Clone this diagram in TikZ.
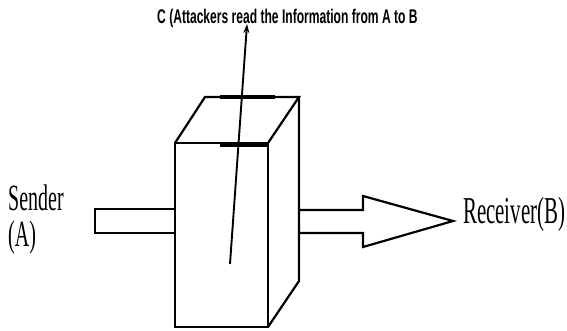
\documentclass[tikz,border=0pt]{standalone}
\usepackage{fontspec}
\setmainfont{Liberation Serif}
\newfontfamily\arialfont{Liberation Sans}
\usetikzlibrary{arrows.meta}
\begin{document}
\begin{tikzpicture}[x=1pt,y=-1pt,
  edge/.style={line width=2.2pt, line join=miter, draw=black},
  thick bar/.style={line width=4.5pt},
  lbl/.style={inner sep=0pt, anchor=west},
  ]
\useasboundingbox (0,0) rectangle (567,331);
% box corners
\coordinate (ftl) at (175,143);
\coordinate (ftr) at (268,143);
\coordinate (fbl) at (175,327);
\coordinate (fbr) at (268,327);
\coordinate (btl) at (205,97);
\coordinate (btr) at (299,97);
\coordinate (bbr) at (299,281);
% sender arrow (shaft only)
\draw[edge] (175,209) -- (95,209) -- (95,233) -- (175,233);
% receiver arrow
\draw[edge] (299,210) -- (363,210) -- (363,196) -- (453,221) -- (363,247) -- (363,233) -- (299,233);
% box
\draw[edge] (ftl) rectangle (fbr);
\draw[edge] (ftl) -- (btl) -- (btr) -- (ftr);
\draw[edge] (btr) -- (bbr) -- (fbr);
% thick bars
\draw[thick bar] (220,97) -- (275,97);
\draw[thick bar] (220,145) -- (268,145);
% attacker arrow
\coordinate (atail) at (230,264);
\coordinate (ahead) at (247,24);
\draw[line width=1.9pt, -{Stealth[length=9pt,width=6pt]}] (atail) -- (ahead);
% labels
\node[lbl] (title) at (157,18) {\scalebox{0.61}[1]{\arialfont\bfseries\fontsize{19.8}{20}\selectfont C (Attackers read the Information from A to B}};
\node[lbl] (sender) at (8,221) {\scalebox{0.54}[1]{\fontsize{37}{34}\selectfont\begin{tabular}{@{}l@{}}Sender\\(A)\end{tabular}}};
\node[lbl] (recv) at (463,214) {\scalebox{0.55}[1]{\fontsize{38}{38}\selectfont Receiver(B)}};
\end{tikzpicture}
\end{document}
